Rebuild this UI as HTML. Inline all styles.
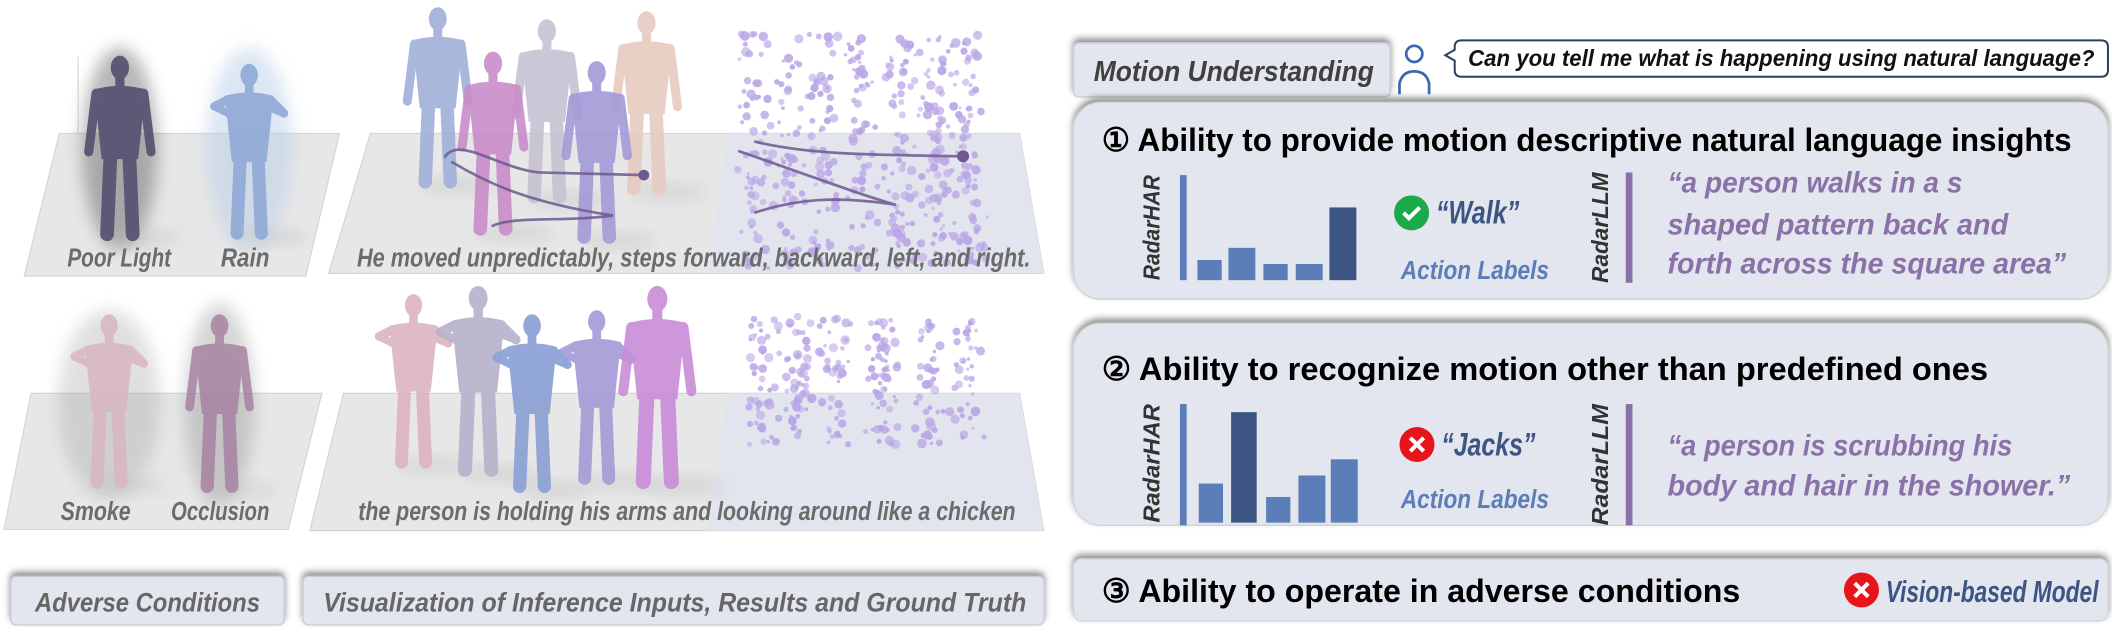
<!DOCTYPE html>
<html><head><meta charset="utf-8"><style>
html,body{margin:0;padding:0;background:#fff;width:2112px;height:632px;overflow:hidden}
svg{display:block}
text{font-family:"Liberation Sans",sans-serif;font-weight:bold}
</style></head><body>
<svg id="s" width="2112" height="632" viewBox="0 0 1568 469.2" xmlns="http://www.w3.org/2000/svg">
<defs>
<filter id="sh" x="-5%" y="-30%" width="110%" height="160%"><feDropShadow dx="0" dy="-3" stdDeviation="2.5" flood-color="#000" flood-opacity="0.45"/></filter>
<filter id="bl" x="-50%" y="-50%" width="200%" height="200%"><feGaussianBlur stdDeviation="6"/></filter>
</defs>
<polygon points="44,99 252,99 227,205 18,205" fill="#e7e7e7" stroke="#d2d2d2" stroke-width="0.8"/>
<polygon points="275,99 757,99 775,203 244,203" fill="#e7e7e7" stroke="#d2d2d2" stroke-width="0.8"/>
<polygon points="540,99 757,99 775,203 525,203" fill="#e3e5ee"/>
<polygon points="23,292 239,292 214,393 3,393" fill="#e7e7e7" stroke="#d2d2d2" stroke-width="0.8"/>
<polygon points="255,292 757,292 775,394 230,394" fill="#e7e7e7" stroke="#d2d2d2" stroke-width="0.8"/>
<polygon points="540,292 757,292 775,394 525,394" fill="#e3e5ee"/>
<line x1="58" y1="42" x2="58" y2="99" stroke="#ddd"/>
<g id="figs"></g>
<g id="cloud"></g>
<g fill="none" stroke="#6e5a90" stroke-width="2" opacity="0.85">
<path d="M330,117 C340,100 370,125 400,128 L478,130"/><path d="M335,120 C360,135 390,150 455,160 C420,165 380,160 365,168"/>
<path d="M560,105 C600,115 650,115 715,116"/><path d="M548,112 C600,130 640,145 665,152 C620,145 590,148 560,158"/>
</g>
<circle cx="478" cy="130" r="4" fill="#6e5a90"/><circle cx="715" cy="116" r="4.5" fill="#6e5a90"/>
<g fill="#6b6b6b" font-size="19" font-style="italic">
<text x="50" y="198" textLength="77" lengthAdjust="spacingAndGlyphs">Poor Light</text>
<text x="164" y="198" textLength="36" lengthAdjust="spacingAndGlyphs">Rain</text>
<text x="265" y="198" textLength="500" lengthAdjust="spacingAndGlyphs">He moved unpredictably, steps forward, backward, left, and right.</text>
<text x="45" y="386" textLength="52" lengthAdjust="spacingAndGlyphs">Smoke</text>
<text x="127" y="386" textLength="73" lengthAdjust="spacingAndGlyphs">Occlusion</text>
<text x="266" y="386" textLength="488" lengthAdjust="spacingAndGlyphs">the person is holding his arms and looking around like a chicken</text>
</g>
<rect x="8" y="428" width="203" height="36" rx="4" fill="#e3e6ee" stroke="#c9ccd5" filter="url(#sh)"/>
<text x="26" y="454" font-size="20" fill="#666" font-style="italic" textLength="167" lengthAdjust="spacingAndGlyphs">Adverse Conditions</text>
<rect x="225" y="428" width="550" height="36" rx="4" fill="#e3e6ee" stroke="#c9ccd5" filter="url(#sh)"/>
<text x="240" y="454" font-size="20" fill="#666" font-style="italic" textLength="522" lengthAdjust="spacingAndGlyphs">Visualization of Inference Inputs, Results and Ground Truth</text>
<rect x="797" y="32" width="235" height="40" rx="4" fill="#e3e6ee" stroke="#c9ccd5" filter="url(#sh)"/>
<text x="812" y="60" font-size="21" fill="#404040" font-style="italic" textLength="208" lengthAdjust="spacingAndGlyphs">Motion Understanding</text>
<g fill="none" stroke="#3b66b0" stroke-width="2"><circle cx="1050" cy="40" r="6"/><path d="M1039,70 L1039,62 Q1041,53 1050,53 Q1059,53 1061,62 L1061,70"/></g>
<path d="M1085,30 H1560 Q1565,30 1565,35 V52 Q1565,57 1560,57 H1085 Q1080,57 1080,52 V45 L1073,41 L1080,37 V35 Q1080,30 1085,30 Z" fill="#fff" stroke="#2c3e60" stroke-width="1.5"/>
<text x="1090" y="49" font-size="17" fill="#111" font-style="italic" textLength="465" lengthAdjust="spacingAndGlyphs">Can you tell me what is happening using natural language?</text>
<rect x="797" y="76" width="768" height="146" rx="20" fill="#e3e6ee" stroke="#d0d3dc" filter="url(#sh)"/>
<rect x="797" y="240" width="768" height="150" rx="20" fill="#e3e6ee" stroke="#d0d3dc" filter="url(#sh)"/>
<rect x="797" y="415" width="768" height="46" rx="6" fill="#e3e6ee" stroke="#d0d3dc" filter="url(#sh)"/>
<g font-size="24" fill="#000">
<text x="818" y="112" textLength="720" lengthAdjust="spacingAndGlyphs">① Ability to provide motion descriptive natural language insights</text>
<text x="818" y="282" textLength="658" lengthAdjust="spacingAndGlyphs">② Ability to recognize motion other than predefined ones</text>
<text x="818" y="447" textLength="474" lengthAdjust="spacingAndGlyphs">③ Ability to operate in adverse conditions</text>
</g>
<rect x="876" y="130" width="5" height="78" fill="#5b7db8"/>
<g fill="#5b7db8"><rect x="889" y="193" width="18" height="15"/><rect x="912" y="184" width="20" height="24"/><rect x="938" y="196" width="18" height="12"/><rect x="962" y="196" width="20" height="12"/></g>
<rect x="987" y="154" width="20" height="54" fill="#3c5582"/>
<text transform="translate(861,208) rotate(-90)" font-size="17" fill="#333" font-style="italic" textLength="78" lengthAdjust="spacingAndGlyphs">RadarHAR</text>
<circle cx="1048" cy="158" r="13" fill="#1aaa4a"/><path d="M1042,158 l4,4 l8,-8" stroke="#fff" stroke-width="3" fill="none"/>
<text x="1066" y="166" font-size="24" fill="#3c5582" font-style="italic" textLength="62" lengthAdjust="spacingAndGlyphs">“Walk”</text>
<text x="1040" y="207" font-size="19" fill="#5b7db8" font-style="italic" textLength="110" lengthAdjust="spacingAndGlyphs">Action Labels</text>
<text transform="translate(1194,210) rotate(-90)" font-size="17" fill="#333" font-style="italic" textLength="82" lengthAdjust="spacingAndGlyphs">RadarLLM</text>
<rect x="1207" y="128" width="5" height="82" fill="#8a72a8"/>
<g font-size="22" fill="#8a72a8" font-style="italic">
<text x="1238" y="143" textLength="219" lengthAdjust="spacingAndGlyphs">“a person walks in a s</text>
<text x="1238" y="174" textLength="253" lengthAdjust="spacingAndGlyphs">shaped pattern back and</text>
<text x="1238" y="203" textLength="296" lengthAdjust="spacingAndGlyphs">forth across the square area”</text>
</g>
<rect x="876" y="300" width="5" height="90" fill="#5b7db8"/>
<g fill="#5b7db8"><rect x="890" y="359" width="18" height="29"/><rect x="940" y="369" width="18" height="19"/><rect x="964" y="353" width="20" height="35"/><rect x="988" y="341" width="20" height="47"/></g>
<rect x="914" y="306" width="19" height="82" fill="#3c5582"/>
<text transform="translate(861,388) rotate(-90)" font-size="17" fill="#333" font-style="italic" textLength="88" lengthAdjust="spacingAndGlyphs">RadarHAR</text>
<circle cx="1052" cy="330" r="13" fill="#e8141b"/><path d="M1047,325 l10,10 M1057,325 l-10,10" stroke="#fff" stroke-width="3"/>
<text x="1070" y="338" font-size="24" fill="#3c5582" font-style="italic" textLength="70" lengthAdjust="spacingAndGlyphs">“Jacks”</text>
<text x="1040" y="377" font-size="19" fill="#5b7db8" font-style="italic" textLength="110" lengthAdjust="spacingAndGlyphs">Action Labels</text>
<text transform="translate(1194,390) rotate(-90)" font-size="17" fill="#333" font-style="italic" textLength="90" lengthAdjust="spacingAndGlyphs">RadarLLM</text>
<rect x="1207" y="300" width="5" height="90" fill="#8a72a8"/>
<g font-size="22" fill="#8a72a8" font-style="italic">
<text x="1238" y="338" textLength="256" lengthAdjust="spacingAndGlyphs">“a person is scrubbing his</text>
<text x="1238" y="368" textLength="299" lengthAdjust="spacingAndGlyphs">body and hair in the shower.”</text>
</g>
<circle cx="1382" cy="438" r="13" fill="#e8141b"/><path d="M1377,433 l10,10 M1387,433 l-10,10" stroke="#fff" stroke-width="3"/>
<text x="1400" y="447" font-size="23" fill="#3c5582" font-style="italic" textLength="158" lengthAdjust="spacingAndGlyphs">Vision-based Model</text>
</svg>
<script>
(function(){
var s=document.getElementById('s'),NS='http://www.w3.org/2000/svg';
function el(t,a,p){var e=document.createElementNS(NS,t);for(var k in a)e.setAttribute(k,a[k]);(p||s).appendChild(e);return e;}
var figs=document.getElementById('figs');
function fig(cx,top,bot,col,op,arms){
  var g=el('g',{opacity:op||0.9},figs),h=bot-top;
  el('ellipse',{cx:cx+0.12*h,cy:bot-0.01*h,rx:0.22*h,ry:0.04*h,fill:'#bbb',opacity:0.5,filter:'url(#bl)'},g);
  var sw=0.075*h;
  function L(x1,y1,x2,y2,w){el('line',{x1:x1,y1:y1,x2:x2,y2:y2,stroke:col,'stroke-width':w,'stroke-linecap':'round'},g);}
  L(cx-0.05*h,top+0.5*h,cx-0.07*h,bot-0.03*h,sw);L(cx+0.05*h,top+0.5*h,cx+0.07*h,bot-0.03*h,sw);
  if(arms){L(cx-0.12*h,top+0.2*h,cx-0.2*h,top+0.24*h,0.05*h);L(cx-0.2*h,top+0.24*h,cx-0.02*h,top+0.33*h,0.045*h);
    L(cx+0.12*h,top+0.2*h,cx+0.2*h,top+0.28*h,0.05*h);L(cx+0.2*h,top+0.28*h,cx+0.05*h,top+0.22*h,0.045*h);}
  else{L(cx-0.13*h,top+0.2*h,cx-0.17*h,top+0.52*h,0.05*h);L(cx+0.13*h,top+0.2*h,cx+0.17*h,top+0.52*h,0.05*h);}
  el('path',{d:'M'+(cx-0.14*h)+','+(top+0.18*h)+' Q'+cx+','+(top+0.14*h)+' '+(cx+0.14*h)+','+(top+0.18*h)+' L'+(cx+0.1*h)+','+(top+0.56*h)+' L'+(cx-0.1*h)+','+(top+0.56*h)+' Z',fill:col},g);
  el('rect',{x:cx-0.025*h,y:top+0.1*h,width:0.05*h,height:0.07*h,fill:col},g);
  el('ellipse',{cx:cx,cy:top+0.06*h,rx:0.05*h,ry:0.065*h,fill:col},g);
}
el('ellipse',{cx:89,cy:110,rx:28,ry:75,fill:'#333',opacity:0.35,filter:'url(#bl)'},figs);
el('ellipse',{cx:185,cy:110,rx:32,ry:75,fill:'#b8cfe8',opacity:0.5,filter:'url(#bl)'},figs);
el('ellipse',{cx:81,cy:300,rx:38,ry:70,fill:'#999',opacity:0.3,filter:'url(#bl)'},figs);
el('ellipse',{cx:163,cy:300,rx:26,ry:75,fill:'#777',opacity:0.3,filter:'url(#bl)'},figs);
fig(89,42,178,'#575573',0.95);fig(185,48,177,'#8fa9d6',0.9,1);
fig(325,6,139,'#9fb0d8');fig(406,15,150,'#c6c2d2');fig(480,9,144,'#e6cbc0');fig(366,39,174,'#c98dc9');fig(443,46,180,'#a59ad8');
fig(81,234,362,'#d8b6bf',0.85,1);fig(163,234,365,'#a57ea0',0.8);
fig(307,219,347,'#dcb4bf',0.9,1);fig(355,213,353,'#b8b0cc',0.9,1);fig(443,231,359,'#a49ad6',0.9,1);fig(395,234,365,'#8ea3d6',0.95,1);fig(488,213,362,'#c98bd8');
var cl=document.getElementById('cloud'),seed=7;function r(){seed=(seed*16807)%2147483647;return seed/2147483647;}
function cloud(cols,y0,y1,n){for(var i=0;i<n;i++){var c=cols[Math.floor(r()*cols.length)];var x=c+(r()+r()-1)*14;var y=y0+r()*(y1-y0);
 el('circle',{cx:x.toFixed(1),cy:y.toFixed(1),r:(1.2+r()*2.4).toFixed(1),fill:'#b9a6e6',opacity:(0.55+r()*0.4).toFixed(2)},cl);}}
cloud([560,585,612,640,668,695,720],25,200,460);
cloud([565,590,620,655,690,718],235,330,280);
})();
</script>
</body></html>
